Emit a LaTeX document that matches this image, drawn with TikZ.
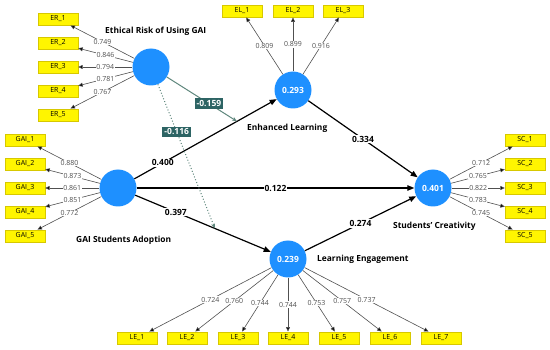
\documentclass[tikz,border=0pt]{standalone}
\usepackage{fontspec}
\setmainfont{Open Sans}
\usetikzlibrary{arrows.meta,calc}
\definecolor{lvblue}{RGB}{30,144,255}
\definecolor{indyel}{RGB}{255,245,0}
\definecolor{indbrd}{RGB}{215,200,0}
\definecolor{modteal}{RGB}{45,100,100}
\definecolor{modline}{RGB}{95,135,125}
\definecolor{loadgray}{RGB}{80,80,80}
\begin{document}
\begin{tikzpicture}[x=1pt,y=-1pt,
 lv/.style={circle,fill=lvblue,minimum size=37pt,inner sep=0pt,text=white,font=\bfseries\fontsize{8.5}{9}\selectfont},
 ind/.style={rectangle,fill=indyel,draw=indbrd,line width=0.4pt,minimum width=40pt,minimum height=12.5pt,inner sep=0pt,font=\fontsize{7}{8}\selectfont},
 load/.style={draw=loadgray,line width=0.6pt,-{Triangle[length=4.5pt,width=4pt,fill=black]}},
 lbl/.style={fill=white,inner sep=0.6pt,text=loadgray,font=\fontsize{7}{8}\selectfont},
 struct/.style={draw=black,line width=1.2pt,-{Triangle[length=7pt,width=5.5pt]}},
 plbl/.style={fill=white,inner sep=1pt,font=\bfseries\fontsize{8.5}{9}\selectfont},
 ttl/.style={anchor=west,inner sep=0pt,font=\bfseries\fontsize{8.4}{9}\selectfont},
 mod/.style={draw=modline,line width=1pt,-{Stealth[length=5pt,width=4pt,open]}},
 modlbl/.style={fill=modteal,text=white,font=\bfseries\fontsize{8.5}{9}\selectfont,inner sep=2pt}
]
\useasboundingbox (0,0) rectangle (550,350);
% latent variables
\node[lv] (ER) at (151,67) {};
\node[lv] (EL) at (293,90) {0.293};
\node[lv] (GAI) at (118,188) {};
\node[lv] (SC) at (433,188) {0.401};
\node[lv] (LE) at (288,259) {0.239};
% titles
\node[ttl] (tER) at (105,31) {Ethical Risk of Using GAI};
\node[ttl] (tEL) at (247,128) {Enhanced Learning};
\node[ttl] (tGAI) at (76,240) {GAI Students Adoption};
\node[ttl] (tSC) at (393,226) {Students’ Creativity};
\node[ttl] (tLE) at (317,259) {Learning Engagement};
% ER indicators
\node[ind] (ER1) at (58,19) {ER\_1};
\node[ind] (ER2) at (58,43) {ER\_2};
\node[ind] (ER3) at (58,67) {ER\_3};
\node[ind] (ER4) at (58,91) {ER\_4};
\node[ind] (ER5) at (58,115) {ER\_5};
\draw[load] (ER) -- node[lbl]{0.749} (ER1);
\draw[load] (ER) -- node[lbl]{0.846} (ER2);
\draw[load] (ER) -- node[lbl]{0.794} (ER3);
\draw[load] (ER) -- node[lbl]{0.781} (ER4);
\draw[load] (ER) -- node[lbl]{0.767} (ER5);
% EL indicators
\node[ind] (EL1) at (242,11) {EL\_1};
\node[ind] (EL2) at (293,11) {EL\_2};
\node[ind] (EL3) at (343,11) {EL\_3};
\draw[load] (EL) -- node[lbl]{0.809} (EL1);
\draw[load] (EL) -- node[lbl]{0.899} (EL2);
\draw[load] (EL) -- node[lbl]{0.916} (EL3);
% GAI indicators
\node[ind] (G1) at (25,140) {GAI\_1};
\node[ind] (G2) at (25,164) {GAI\_2};
\node[ind] (G3) at (25,188) {GAI\_3};
\node[ind] (G4) at (25,212) {GAI\_4};
\node[ind] (G5) at (25,236) {GAI\_5};
\draw[load] (GAI) -- node[lbl]{0.880} (G1);
\draw[load] (GAI) -- node[lbl]{0.873} (G2);
\draw[load] (GAI) -- node[lbl]{0.861} (G3);
\draw[load] (GAI) -- node[lbl]{0.851} (G4);
\draw[load] (GAI) -- node[lbl]{0.772} (G5);
% SC indicators
\node[ind] (S1) at (525,140) {SC\_1};
\node[ind] (S2) at (525,164) {SC\_2};
\node[ind] (S3) at (525,188) {SC\_3};
\node[ind] (S4) at (525,212) {SC\_4};
\node[ind] (S5) at (525,236) {SC\_5};
\draw[load] (SC) -- node[lbl]{0.712} (S1);
\draw[load] (SC) -- node[lbl]{0.765} (S2);
\draw[load] (SC) -- node[lbl]{0.822} (S3);
\draw[load] (SC) -- node[lbl]{0.783} (S4);
\draw[load] (SC) -- node[lbl]{0.745} (S5);
% LE indicators
\node[ind] (L1) at (137,338) {LE\_1};
\node[ind] (L2) at (187,338) {LE\_2};
\node[ind] (L3) at (238,338) {LE\_3};
\node[ind] (L4) at (288,338) {LE\_4};
\node[ind] (L5) at (339,338) {LE\_5};
\node[ind] (L6) at (390,338) {LE\_6};
\node[ind] (L7) at (441,338) {LE\_7};
\draw[load] (LE) -- node[lbl]{0.724} (L1);
\draw[load] (LE) -- node[lbl]{0.760} (L2);
\draw[load] (LE) -- node[lbl]{0.744} (L3);
\draw[load] (LE) -- node[lbl]{0.744} (L4);
\draw[load] (LE) -- node[lbl]{0.753} (L5);
\draw[load] (LE) -- node[lbl]{0.757} (L6);
\draw[load] (LE) -- node[lbl]{0.737} (L7);
% structural paths
\draw[struct] (GAI) -- node[plbl,pos=0.2]{0.400} (EL);
\draw[struct] (GAI) -- node[plbl,pos=0.3]{0.397} (LE);
\draw[struct] (GAI) -- node[plbl,pos=0.5]{0.122} (SC);
\draw[struct] (EL) -- node[plbl,pos=0.5]{0.334} (SC);
\draw[struct] (LE) -- node[plbl,pos=0.5]{0.274} (SC);
% moderating effects
\coordinate (m1) at ($(GAI)!0.68!(EL)$);
\coordinate (m2) at ($(GAI)!0.57!(LE)$);
\draw[mod] (ER) -- node[modlbl,pos=0.6]{-0.159} (m1);
\draw[mod,dotted] (ER) -- node[modlbl,pos=0.33]{-0.116} (m2);
\end{tikzpicture}
\end{document}
